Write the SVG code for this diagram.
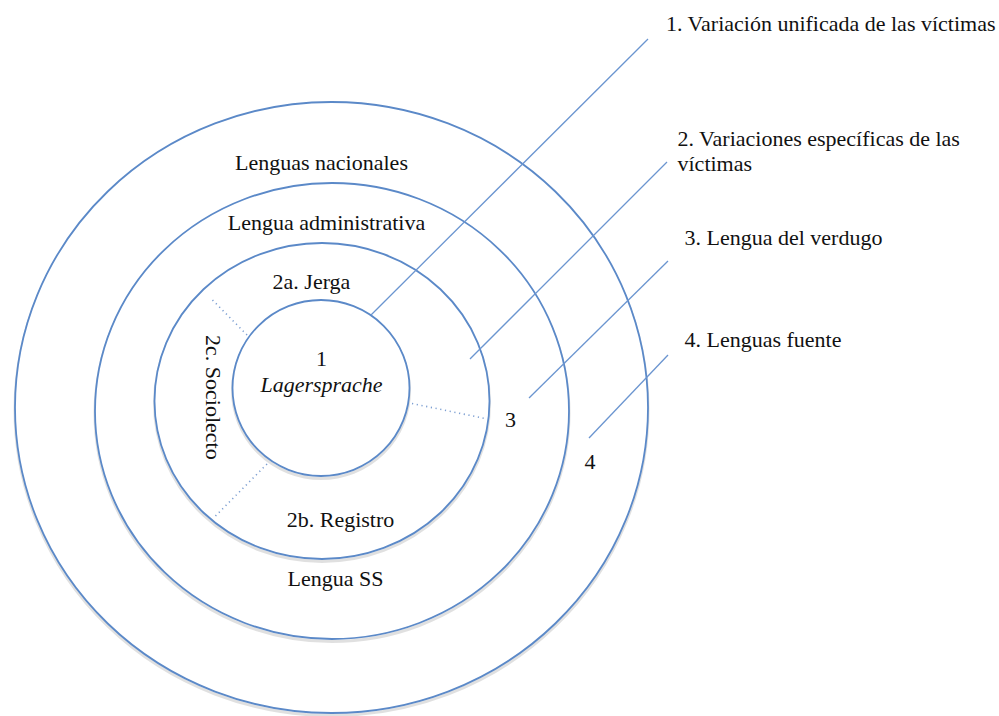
<svg xmlns="http://www.w3.org/2000/svg" width="999" height="716" viewBox="0 0 999 716" font-family="'Liberation Serif', 'Times New Roman', 'DejaVu Serif', serif">
<style>
.ring{fill:#ffffff;stroke:#5b89c8;stroke-width:1.8}
.shadow{fill:none;stroke:#000;stroke-opacity:0.12;stroke-width:3}
.lead{stroke:#6b95d0;stroke-width:1.3;fill:none}
.dot{stroke:#7d9fd2;stroke-width:1.6;stroke-dasharray:1.2 3.6;fill:none}
.t{font-family:'Liberation Serif','Times New Roman','DejaVu Serif',serif;font-size:22px;fill:#111}
.c{text-anchor:middle}
</style>
<rect width="999" height="716" fill="#ffffff"/>
<g id="ring4">
<ellipse class="shadow" cx="331.5" cy="410" rx="316.5" ry="305.5"/>
<ellipse class="ring" cx="331.5" cy="407.5" rx="316.5" ry="305.5"/>
<text class="t c" x="321.5" y="170">Lenguas nacionales</text>
<text class="t c" x="590" y="469">4</text>
</g>
<g id="ring3">
<ellipse class="shadow" cx="332" cy="413.5" rx="237" ry="228"/>
<ellipse class="ring" cx="332" cy="411" rx="237" ry="228"/>
<text class="t c" x="326.5" y="230">Lengua administrativa</text>
<text class="t c" x="335.5" y="586">Lengua SS</text>
<text class="t c" x="510.5" y="427">3</text>
</g>
<g id="ring2">
<ellipse class="shadow" cx="322" cy="403.5" rx="167.5" ry="158"/>
<ellipse class="ring" cx="322" cy="401" rx="167.5" ry="158"/>
<text class="t c" x="311.5" y="289">2a. Jerga</text>
<text class="t c" x="340.5" y="527">2b. Registro</text>
<text class="t" x="206" y="335" transform="rotate(90 206 335)">2c. Sociolecto</text>
</g>
<g id="ring1">
<ellipse class="shadow" cx="321" cy="390.5" rx="88.5" ry="88"/>
<ellipse class="ring" cx="321" cy="388" rx="88.5" ry="88"/>
<text class="t c" x="321.5" y="366">1</text>
<text class="t c" x="321.5" y="392" font-style="italic">Lagersprache</text>
</g>
<g id="connectors">
<line class="lead" x1="371" y1="315" x2="648" y2="39"/>
<line class="lead" x1="470" y1="359" x2="667" y2="162"/>
<line class="lead" x1="529" y1="398" x2="668" y2="261"/>
<line class="lead" x1="589" y1="438" x2="668" y2="355"/>
<line class="dot" x1="212.5" y1="300" x2="247" y2="335"/>
<line class="dot" x1="412" y1="403.5" x2="485" y2="418.5"/>
<line class="dot" x1="267" y1="464" x2="214.5" y2="517"/>
</g>
<g id="labels">
<text class="t" x="666" y="31">1. Variación unificada de las víctimas</text>
<text class="t" x="677.5" y="146">2. Variaciones específicas de las</text>
<text class="t" x="677.5" y="171">víctimas</text>
<text class="t" x="684.5" y="245">3. Lengua del verdugo</text>
<text class="t" x="684.5" y="347">4. Lenguas fuente</text>
</g>
</svg>
